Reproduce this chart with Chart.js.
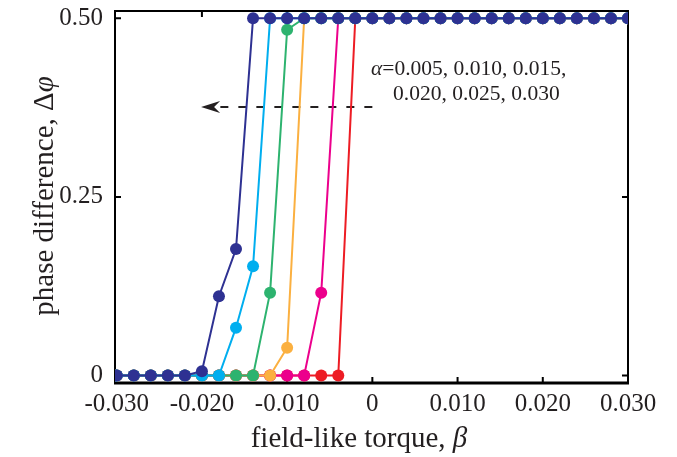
<!DOCTYPE html>
<html>
<head>
<meta charset="utf-8">
<script src="https://cdn.jsdelivr.net/npm/chart.js@4"></script>
<style>
  html, body { margin: 0; padding: 0; background: #fff; }
  #wrap { width: 677px; height: 457px; }
</style>
</head>
<body>
<div id="wrap"><canvas id="myChart" width="677" height="457"></canvas></div>
<script>
// field-like torque values (x)
const beta = [-0.030, -0.028, -0.026, -0.024, -0.022, -0.020, -0.018, -0.016, -0.014, -0.012,
              -0.010, -0.008, -0.006, -0.004, -0.002, 0.000, 0.002, 0.004, 0.006, 0.008,
              0.010, 0.012, 0.014, 0.016, 0.018, 0.020, 0.022, 0.024, 0.026, 0.028, 0.030];

// phase difference for each damping alpha
const phase030 = [0, 0, 0, 0, 0, 0.006, 0.111, 0.177, 0.5, 0.5, 0.5, 0.5, 0.5, 0.5, 0.5, 0.5,
                  0.5, 0.5, 0.5, 0.5, 0.5, 0.5, 0.5, 0.5, 0.5, 0.5, 0.5, 0.5, 0.5, 0.5, 0.5];
const phase025 = [0, 0, 0, 0, 0, 0, 0, 0.067, 0.153, 0.5, 0.5, 0.5, 0.5, 0.5, 0.5, 0.5,
                  0.5, 0.5, 0.5, 0.5, 0.5, 0.5, 0.5, 0.5, 0.5, 0.5, 0.5, 0.5, 0.5, 0.5, 0.5];
const phase020 = [0, 0, 0, 0, 0, 0, 0, 0, 0, 0.116, 0.484, 0.5, 0.5, 0.5, 0.5, 0.5,
                  0.5, 0.5, 0.5, 0.5, 0.5, 0.5, 0.5, 0.5, 0.5, 0.5, 0.5, 0.5, 0.5, 0.5, 0.5];
const phase015 = [0, 0, 0, 0, 0, 0, 0, 0, 0, 0, 0.039, 0.5, 0.5, 0.5, 0.5, 0.5,
                  0.5, 0.5, 0.5, 0.5, 0.5, 0.5, 0.5, 0.5, 0.5, 0.5, 0.5, 0.5, 0.5, 0.5, 0.5];
const phase010 = [0, 0, 0, 0, 0, 0, 0, 0, 0, 0, 0, 0, 0.116, 0.5, 0.5, 0.5,
                  0.5, 0.5, 0.5, 0.5, 0.5, 0.5, 0.5, 0.5, 0.5, 0.5, 0.5, 0.5, 0.5, 0.5, 0.5];
const phase005 = [0, 0, 0, 0, 0, 0, 0, 0, 0, 0, 0, 0, 0, 0, 0.5, 0.5,
                  0.5, 0.5, 0.5, 0.5, 0.5, 0.5, 0.5, 0.5, 0.5, 0.5, 0.5, 0.5, 0.5, 0.5, 0.5];

// tick labels
const xTicks = [-0.030, -0.020, -0.010, 0, 0.010, 0.020, 0.030];
const xTickLabels = ['-0.030', '-0.020', '-0.010', '0', '0.010', '0.020', '0.030'];
const yTicks = [0, 0.25, 0.5];
const yTickLabels = ['0', '0.25', '0.50'];

const alphaLines = ['=0.005, 0.010, 0.015,', '0.020, 0.025, 0.030'];
const arrowFrom = { x: 0.0, y: 0.376 };
const arrowTo = { x: -0.0201, y: 0.376 };

const ink = '#231f20';
const serif = '"Liberation Serif", "Times New Roman", serif';

function series(values, color) {
    return {
        data: beta.map((b, i) => ({ x: b, y: values[i] })),
        borderColor: color,
        backgroundColor: color,
        borderWidth: 2,
        pointRadius: 6,
        pointBorderWidth: 0,
        pointHoverRadius: 6,
        tension: 0
    };
}

// draw text pieces with mixed italic
function drawRuns(ctx, runs, size, x, y, align) {
    let total = 0;
    runs.forEach(r => {
        ctx.font = (r[1] ? 'italic ' : '') + size + 'px ' + serif;
        total += ctx.measureText(r[0]).width;
    });
    let cx = align === 'center' ? x - total / 2 : x;
    runs.forEach(r => {
        ctx.font = (r[1] ? 'italic ' : '') + size + 'px ' + serif;
        ctx.fillText(r[0], cx, y);
        cx += ctx.measureText(r[0]).width;
    });
}

const framePlugin = {
    id: 'frame',
    beforeDatasetsDraw(chart) {
        const { ctx, chartArea: a, scales: { x, y } } = chart;
        ctx.save();
        ctx.strokeStyle = '#000';
        ctx.lineWidth = 2;
        ctx.strokeRect(a.left, a.top, a.right - a.left, a.bottom - a.top);
        ctx.lineWidth = 3;
        ctx.beginPath();
        ctx.moveTo(a.left - 1, a.bottom);
        ctx.lineTo(a.right + 1, a.bottom);
        ctx.stroke();
        // inward ticks
        const tl = 6;
        ctx.lineWidth = 2;
        ctx.beginPath();
        xTicks.forEach(v => {
            const px = x.getPixelForValue(v);
            if (px < a.left + 3 || px > a.right - 3) return;
            ctx.moveTo(px, a.bottom); ctx.lineTo(px, a.bottom - tl);
            ctx.moveTo(px, a.top); ctx.lineTo(px, a.top + tl);
        });
        yTicks.forEach(v => {
            const py = y.getPixelForValue(v);
            ctx.moveTo(a.left, py); ctx.lineTo(a.left + tl, py);
            ctx.moveTo(a.right, py); ctx.lineTo(a.right - tl, py);
        });
        ctx.stroke();

        // dashed arrow
        const x0 = x.getPixelForValue(arrowFrom.x), y0 = y.getPixelForValue(arrowFrom.y);
        const x1 = x.getPixelForValue(arrowTo.x), y1 = y.getPixelForValue(arrowTo.y);
        ctx.strokeStyle = ink;
        ctx.lineWidth = 2;
        ctx.setLineDash([8, 10]);
        ctx.beginPath();
        ctx.moveTo(x0, y0);
        ctx.lineTo(x1 + 18, y1);
        ctx.stroke();
        ctx.setLineDash([]);
        ctx.fillStyle = ink;
        ctx.beginPath();
        ctx.moveTo(x1, y1);
        ctx.lineTo(x1 + 19, y1 - 6);
        ctx.lineTo(x1 + 13, y1);
        ctx.lineTo(x1 + 19, y1 + 6);
        ctx.closePath();
        ctx.fill();
        ctx.restore();
    },
    afterDraw(chart) {
        const { ctx } = chart;
        ctx.save();
        ctx.fillStyle = ink;
        ctx.textBaseline = 'alphabetic';
        ctx.textAlign = 'left';
        // annotation
        drawRuns(ctx, [['α', true], [alphaLines[0], false]], 21.5, 371, 75, 'left');
        drawRuns(ctx, [[alphaLines[1], false]], 21.5, 393, 100, 'left');
        // x title
        drawRuns(ctx, [['field-like torque, ', false], ['β', true]], 29, 359, 447, 'center');
        // y title
        ctx.translate(53, 196);
        ctx.rotate(-Math.PI / 2);
        drawRuns(ctx, [['phase difference, Δ', false], ['φ', true]], 29, 0, 0, 'center');
        ctx.restore();
    }
};

const ctx = document.getElementById('myChart').getContext('2d');

let myChart = new Chart(ctx, {
    type: 'line',
    data: {
        datasets: [
            series(phase030, '#2e3192'),
            series(phase025, '#00aeef'),
            series(phase020, '#2db36f'),
            series(phase015, '#fbb040'),
            series(phase010, '#ec008c'),
            series(phase005, '#ed1c24')
        ]
    },
    options: {
        responsive: false,
        animation: false,
        layout: { padding: { top: 11, right: 49, left: 0, bottom: 0 }, autoPadding: false },
        plugins: { legend: { display: false }, tooltip: { enabled: false } },
        scales: {
            x: {
                type: 'linear',
                min: -0.0302,
                max: 0.0300,
                grid: { display: false, drawTicks: false },
                border: { display: false },
                afterBuildTicks: s => { s.ticks = xTicks.map(v => ({ value: v })); },
                afterFit: s => { s.height = 74; s.paddingLeft = 0; s.paddingRight = 0; },
                ticks: {
                    padding: 6,
                    maxRotation: 0,
                    autoSkip: false,
                    color: ink,
                    font: { family: serif, size: 25 },
                    callback: (v) => xTickLabels[xTicks.findIndex(t => Math.abs(t - v) < 1e-9)]
                }
            },
            y: {
                min: -0.0104,
                max: 0.5102,
                grid: { display: false, drawTicks: false },
                border: { display: false },
                afterBuildTicks: s => { s.ticks = yTicks.map(v => ({ value: v })); },
                afterFit: s => { s.width = 115; s.paddingTop = 0; s.paddingBottom = 0; },
                ticks: {
                    padding: 12,
                    color: ink,
                    font: { family: serif, size: 25 },
                    callback: (v) => yTickLabels[yTicks.findIndex(t => Math.abs(t - v) < 1e-9)]
                }
            }
        }
    },
    plugins: [framePlugin]
});
</script>
</body>
</html>
